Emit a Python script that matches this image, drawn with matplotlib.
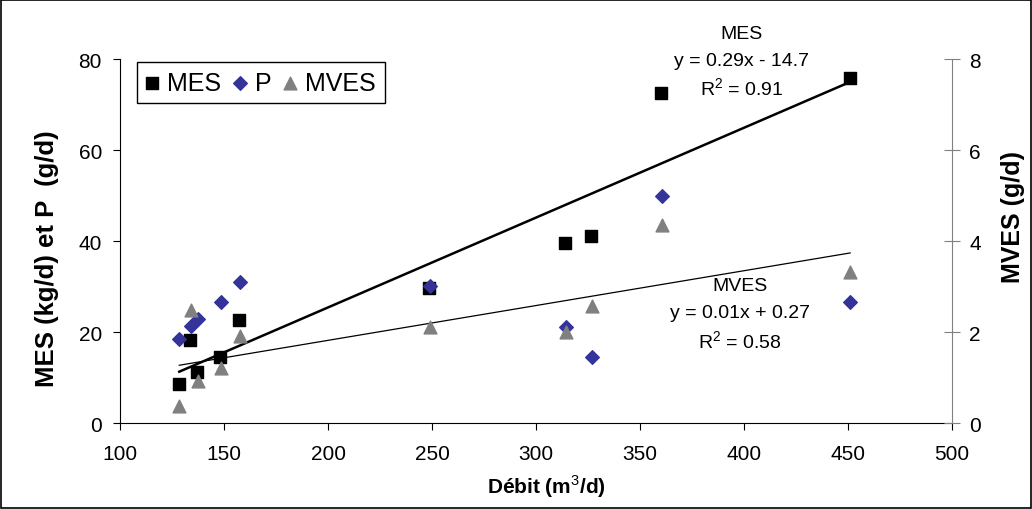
import numpy as np
import matplotlib
matplotlib.use('Agg')
import matplotlib.pyplot as plt
from matplotlib.patches import Rectangle

plt.rcParams['font.family'] = ['Liberation Sans', 'DejaVu Sans']
plt.rcParams['mathtext.fontset'] = 'custom'
plt.rcParams['mathtext.rm'] = 'Liberation Sans'
plt.rcParams['mathtext.bf'] = 'Liberation Sans:bold'

# data
debit_mes = [128.5, 133.5, 137, 148, 157, 248.5, 314, 326.5, 360, 451]
mes = [8.6, 18.2, 11.2, 14.6, 22.6, 29.6, 39.5, 41.2, 72.5, 75.8]

debit_p = [128.5, 134, 137.5, 148.5, 157.5, 249, 314.5, 327, 360.5, 451]
p = [18.4, 21.3, 22.8, 26.6, 31.1, 30.2, 21.1, 14.6, 50.0, 26.6]

debit_mves = [128.5, 134, 137.5, 148.5, 157.5, 249, 314.5, 327, 360.5, 451]
mves = [0.38, 2.48, 0.93, 1.21, 1.92, 2.12, 2.0, 2.58, 4.35, 3.32]

xticks = [100, 150, 200, 250, 300, 350, 400, 450, 500]
yticks_left = [0, 20, 40, 60, 80]
yticks_right = [0, 2, 4, 6, 8]

fig = plt.figure(figsize=(10.32, 5.10), dpi=100)
ax = fig.add_axes([0.1163, 0.1686, 0.8062, 0.7137])
ax2 = ax.twinx()

# trend lines
fit_mes = np.polyfit(debit_mes, mes, 1)
xs = np.array([min(debit_mes), max(debit_mes)])
ax.plot(xs, np.polyval(fit_mes, xs), color='black', lw=1.8, zorder=2)

fit_mves = np.polyfit(debit_mves, mves, 1)
xs2 = np.array([min(debit_mves), max(debit_mves)])
ax2.plot(xs2, np.polyval(fit_mves, xs2), color='black', lw=0.9, zorder=2)

h1 = ax.scatter(debit_mes, mes, marker='s', s=72, color='black', zorder=3, label='MES')
h2 = ax.scatter(debit_p, p, marker='D', s=48, color='#333399', zorder=3, label='P')
h3 = ax2.scatter(debit_mves, mves, marker='^', s=85, color='#808080', zorder=3, label='MVES')

ax.set_xlim(100, 500)
ax.set_ylim(0, 80)
ax2.set_ylim(0, 8)
ax.set_xticks(xticks)
ax.set_yticks(yticks_left)
ax2.set_yticks(yticks_right)

ax.spines['top'].set_visible(False)
ax2.spines['top'].set_visible(False)
ax.spines['right'].set_visible(False)
ax2.spines['left'].set_visible(False)
ax2.spines['bottom'].set_visible(False)
ax2.spines['right'].set_color('#808080')

ax.tick_params(axis='x', direction='out', length=5, labelsize=15, pad=10)
ax.tick_params(axis='y', direction='out', length=5, labelsize=15, pad=8)
ax2.tick_params(axis='y', direction='inout', length=11, labelsize=15, pad=7, color='#808080')

ax.set_xlabel('Débit (m$^3$/d)', fontsize=15, fontweight='bold', va='center')
ax.set_ylabel('MES (kg/d) et P  (g/d)', fontsize=18.5, fontweight='bold', va='center', ha='center')
ax2.set_ylabel('MVES (g/d)', fontsize=18, fontweight='bold', va='center', ha='center')
ax.xaxis.set_label_coords(0.513, -0.173)
ax.yaxis.set_label_coords(-0.088, 0.453)
ax2.yaxis.set_label_coords(1.073, 0.569)

# equations
txt = dict(ha='center', va='center', fontsize=14, clip_on=False)
ax.text(399, 85.7, 'MES', **txt)
ax.text(399, 79.6, 'y = 0.29x - 14.7', **txt)
ax.text(399, 73.6, 'R$^2$ = 0.91', **txt)
ax.text(398, 30.3, 'MVES', **txt)
ax.text(398, 24.2, 'y = 0.01x + 0.27', **txt)
ax.text(398, 18.0, 'R$^2$ = 0.58', **txt)

leg = ax2.legend(handles=[h1, h2, h3], loc='upper left', bbox_to_anchor=(0.0204, 0.992),
                 ncol=3, fontsize=18, frameon=True, fancybox=False, edgecolor='black',
                 framealpha=1, borderaxespad=0, handlelength=0.5, handletextpad=0.35,
                 columnspacing=0.5, borderpad=0.35, scatterpoints=1)
leg.get_frame().set_linewidth(1.0)

fig.add_artist(Rectangle((0.001, 0.002), 0.998, 0.996, transform=fig.transFigure,
                         fill=False, edgecolor='black', lw=1.2))

fig.savefig('out.png', dpi=100)
